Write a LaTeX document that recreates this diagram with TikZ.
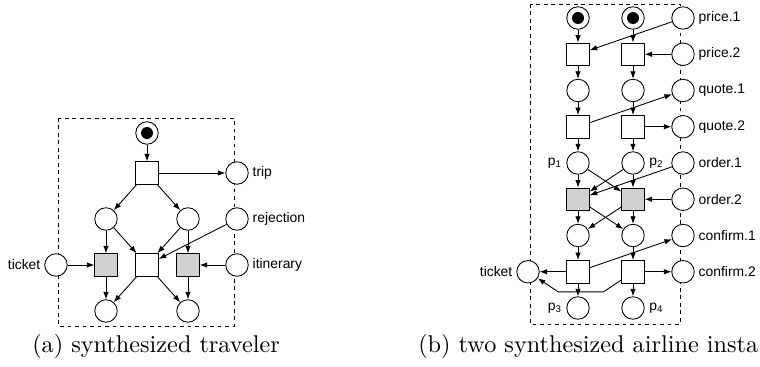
\documentclass[tikz,border=0pt]{standalone}
\usepackage{fontspec}
\usepackage{tikz}
\usetikzlibrary{matrix,positioning,arrows.meta}
\newfontfamily\lblfont{Liberation Sans}
\newfontfamily\capfont{lmroman10-regular.otf}

\begin{document}
\begin{tikzpicture}[
    x=0.8pt, y=-0.8pt,
    place/.style={circle},
    trans/.style={rectangle},
    gtrans/.style={rectangle, fill=black!18},
    marked/.style={circle,
      path picture={\fill[black] (path picture bounding box.center) circle (4.8pt);}},
    net/.style={
      matrix of nodes,
      nodes={draw, fill=white, minimum size=18pt, inner sep=0pt, line width=0.7pt}
    },
    lbl/.style={font=\lblfont\fontsize{11.1}{13}\selectfont, inner sep=1.5pt},
    captext/.style={font=\capfont\fontsize{19.4}{23}\selectfont, anchor=base west, inner sep=0pt},
    arc/.style={->, line width=0.7pt},
    frame/.style={dashed, line width=0.7pt},
    >={Latex[length=6pt,width=4.4pt]}
]

  \useasboundingbox (0,0) rectangle (760,367);

  % dashed borders
  \draw[frame] (58,118) rectangle (234,326);
  \draw[frame] (530,4) rectangle (680,324);

  % (a) traveler
  \matrix[net, column sep=14.1pt, row sep=18.1pt] (trv) at (146.5,222) {
    &[7.2pt] & |[marked]| & &[6.4pt] \\[-4.8pt]
    & & |[trans]| & & |[place]| \\
    & |[place]| & & |[place]| & |[place]| \\
    |[place]| & |[gtrans]| & |[trans]| & |[gtrans]| & |[place]| \\
    & |[place]| & & |[place]| & \\
  };

  % (b) airline instances
  \matrix[net, column sep=21.3pt, row sep=10.3pt] (air) at (605.5,163) {
    & |[marked]| &[4pt] |[marked]| & |[place]| \\
    & |[trans]| & |[trans]| & |[place]| \\
    & |[place]| & |[place]| & |[place]| \\
    & |[trans]| & |[trans]| & |[place]| \\
    & |[place]| & |[place]| & |[place]| \\
    & |[gtrans]| & |[gtrans]| & |[place]| \\
    & |[place]| & |[place]| & |[place]| \\
    |[place]| & |[trans]| & |[trans]| & |[place]| \\
    & |[place]| & |[place]| & \\
  };

  % traveler labels
  \foreach \i/\txt in {2/trip,3/rejection,4/itinerary}
  \node[lbl, right=1.5pt of trv-\i-5] (trv-lbl-\i) {\txt};
  \node[lbl, left=1.5pt of trv-4-1] (trv-lbl-ticket) {ticket};

  % airline labels
  \foreach \i/\txt in {1/price.1,2/price.2,3/quote.1,4/quote.2,5/order.1,6/order.2,7/confirm.1,8/confirm.2}
  \node[lbl, right=1.5pt of air-\i-4] (air-lbl-\i) {\txt};
  \node[lbl, left=1.5pt of air-8-1] (air-lbl-ticket) {ticket};
  \node[lbl, left=2pt of air-5-2] (air-p1) {p\textsubscript{1}};
  \node[lbl, right=2pt of air-5-3] (air-p2) {p\textsubscript{2}};
  \node[lbl, left=2pt of air-9-2] (air-p3) {p\textsubscript{3}};
  \node[lbl, right=2pt of air-9-3] (air-p4) {p\textsubscript{4}};

  % traveler: start and trip
  \draw[arc] (trv-1-3) -- (trv-2-3);
  \draw[arc] (trv-2-3) -- (trv-2-5);
  \draw[arc] (trv-2-3) -- (trv-3-2);
  \draw[arc] (trv-2-3) -- (trv-3-4);

  % traveler: middle transitions
  \draw[arc] (trv-3-2) -- (trv-4-2);
  \draw[arc] (trv-3-2) -- (trv-4-3);
  \draw[arc] (trv-3-4) -- (trv-4-3);
  \draw[arc] (trv-3-4) -- (trv-4-4);
  \draw[arc] (trv-3-5) -- (trv-4-3);
  \draw[arc] (trv-4-1) -- (trv-4-2);
  \draw[arc] (trv-4-5) -- (trv-4-4);

  % traveler: end places
  \draw[arc] (trv-4-2) -- (trv-5-2);
  \draw[arc] (trv-4-3) -- (trv-5-2);
  \draw[arc] (trv-4-3) -- (trv-5-4);
  \draw[arc] (trv-4-4) -- (trv-5-4);

  % airline: price
  \draw[arc] (air-1-2) -- (air-2-2);
  \draw[arc] (air-1-3) -- (air-2-3);
  \draw[arc] (air-1-4) -- (air-2-2);
  \draw[arc] (air-2-4) -- (air-2-3);
  \draw[arc] (air-2-2) -- (air-3-2);
  \draw[arc] (air-2-3) -- (air-3-3);

  % airline: quote
  \draw[arc] (air-3-2) -- (air-4-2);
  \draw[arc] (air-3-3) -- (air-4-3);
  \draw[arc] (air-4-2) -- (air-3-4);
  \draw[arc] (air-4-3) -- (air-4-4);
  \draw[arc] (air-4-2) -- (air-5-2);
  \draw[arc] (air-4-3) -- (air-5-3);

  % airline: order
  \draw[arc] (air-5-2) -- (air-6-2);
  \draw[arc] (air-5-2) -- (air-6-3);
  \draw[arc] (air-5-3) -- (air-6-2);
  \draw[arc] (air-5-3) -- (air-6-3);
  \draw[arc] (air-5-4) -- (air-6-2);
  \draw[arc] (air-6-4) -- (air-6-3);
  \draw[arc] (air-6-2) -- (air-7-2);
  \draw[arc] (air-6-2) -- (air-7-3);
  \draw[arc] (air-6-3) -- (air-7-2);
  \draw[arc] (air-6-3) -- (air-7-3);

  % airline: confirm and ticket
  \draw[arc] (air-7-2) -- (air-8-2);
  \draw[arc] (air-7-3) -- (air-8-3);
  \draw[arc] (air-8-2) -- (air-7-4);
  \draw[arc] (air-8-3) -- (air-8-4);
  \draw[arc] (air-8-2) -- (air-8-1);
  \draw[arc] ([yshift=2.8pt]air-8-3.south west) -- ++(-18,12) -- ++(-45,0) -- (air-8-1);
  \draw[arc] (air-8-2) -- (air-9-2);
  \draw[arc] (air-8-3) -- (air-9-3);

  % captions
  \node[captext] (cap-a) at (32,352) {(a) synthesized traveler};
  \node[captext] (cap-b) at (418,352) {(b) two synthesized airline insta};

\end{tikzpicture}
\end{document}
